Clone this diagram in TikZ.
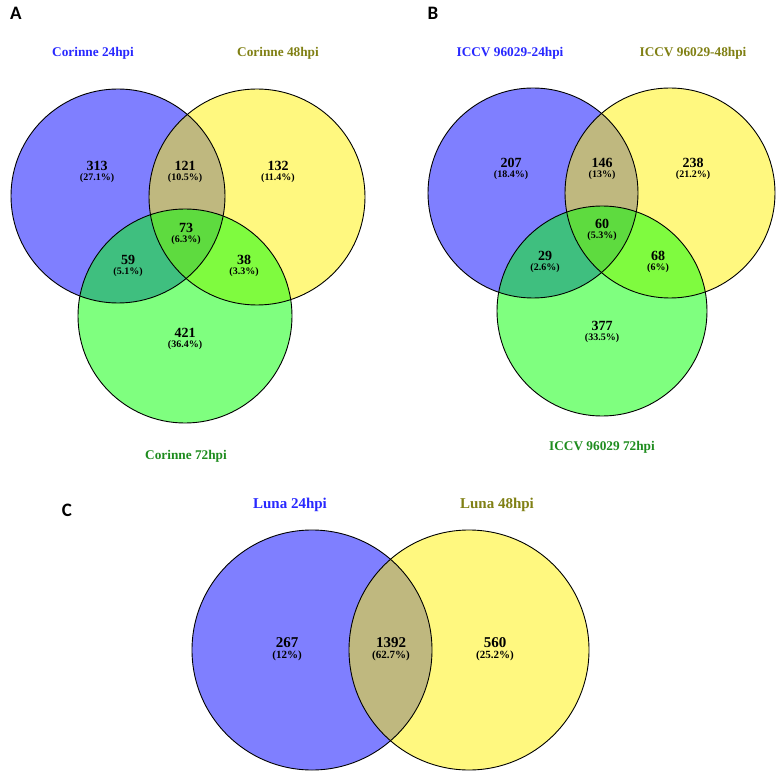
\documentclass[tikz,border=0pt]{standalone}
\usepackage{fontspec}
\setmainfont{Liberation Serif}
\newfontfamily\panelfont{Carlito}
\definecolor{lblblue}{RGB}{40,40,255}
\definecolor{lblolive}{RGB}{128,128,20}
\definecolor{lblgreen}{RGB}{30,140,30}
\tikzset{
  vennline/.style={draw=black, line width=0.9pt},
  bset/.style={fill=blue, fill opacity=0.5},
  yset/.style={fill=yellow, fill opacity=0.5},
  gset/.style={fill=green, fill opacity=0.5},
  num/.style={inner sep=0pt, font=\fontsize{14}{14}\selectfont\bfseries},
  pct/.style={inner sep=0pt, font=\fontsize{10}{10}\selectfont\bfseries},
  bignum/.style={inner sep=0pt, font=\fontsize{15}{15}\selectfont\bfseries},
  bigpct/.style={inner sep=0pt, font=\fontsize{11}{11}\selectfont\bfseries},
  setlbl/.style={inner sep=0pt, font=\fontsize{13.3}{13.3}\selectfont\bfseries},
  biglbl/.style={inner sep=0pt, font=\fontsize{15}{15}\selectfont\bfseries},
  panel/.style={inner sep=0pt, font=\fontsize{19}{19}\selectfont\panelfont\bfseries}
}
\begin{document}
\begin{tikzpicture}[x=1pt,y=-1pt]
\useasboundingbox (0,0) rectangle (781,775);
% ---------- Panel A ----------
\node[panel] (pA) at (16,13) {A};
\coordinate (Ab) at (118,196);
\coordinate (Ay) at (257,197);
\coordinate (Ag) at (185,316);
\fill[bset] (Ab) circle[radius=107];
\fill[yset] (Ay) circle[radius=108];
\fill[gset] (Ag) circle[radius=107];
\draw[vennline] (Ab) circle[radius=107];
\draw[vennline] (Ay) circle[radius=108];
\draw[vennline] (Ag) circle[radius=107];
\node[setlbl, text=lblblue] (Alb) at (93,53) {Corinne 24hpi};
\node[setlbl, text=lblolive] (Aly) at (278,53) {Corinne 48hpi};
\node[setlbl, text=lblgreen] (Alg) at (186,456) {Corinne 72hpi};
\node[num] (An1) at (97,166) {313};   \node[pct] (Ap1) at (97,178) {(27.1\%)};
\node[num] (An2) at (185,166) {121};  \node[pct] (Ap2) at (185,178) {(10.5\%)};
\node[num] (An3) at (278,166) {132};  \node[pct] (Ap3) at (278,178) {(11.4\%)};
\node[num] (An4) at (186,228) {73};   \node[pct] (Ap4) at (186,240) {(6.3\%)};
\node[num] (An5) at (128,260) {59};   \node[pct] (Ap5) at (128,272) {(5.1\%)};
\node[num] (An6) at (244,260) {38};   \node[pct] (Ap6) at (244,272) {(3.3\%)};
\node[num] (An7) at (185,333) {421};  \node[pct] (Ap7) at (185,345) {(36.4\%)};
% ---------- Panel B ----------
\node[panel] (pB) at (433,13) {B};
\coordinate (Bb) at (533,193);
\coordinate (By) at (670,193);
\coordinate (Bg) at (602,311);
\fill[bset] (Bb) circle[radius=105];
\fill[yset] (By) circle[radius=105];
\fill[gset] (Bg) circle[radius=105];
\draw[vennline] (Bb) circle[radius=105];
\draw[vennline] (By) circle[radius=105];
\draw[vennline] (Bg) circle[radius=105];
\node[setlbl, text=lblblue] (Blb) at (510,53) {ICCV 96029-24hpi};
\node[setlbl, text=lblolive] (Bly) at (693,53) {ICCV 96029-48hpi};
\node[setlbl, text=lblgreen] (Blg) at (602,447) {ICCV 96029 72hpi};
\node[num] (Bn1) at (511,163) {207};  \node[pct] (Bp1) at (511,175) {(18.4\%)};
\node[num] (Bn2) at (602,163) {146};  \node[pct] (Bp2) at (602,175) {(13\%)};
\node[num] (Bn3) at (693,163) {238};  \node[pct] (Bp3) at (693,175) {(21.2\%)};
\node[num] (Bn4) at (602,224) {60};   \node[pct] (Bp4) at (602,236) {(5.3\%)};
\node[num] (Bn5) at (545,256) {29};   \node[pct] (Bp5) at (545,268) {(2.6\%)};
\node[num] (Bn6) at (658,256) {68};   \node[pct] (Bp6) at (658,268) {(6\%)};
\node[num] (Bn7) at (602,326) {377};  \node[pct] (Bp7) at (602,338) {(33.5\%)};
% ---------- Panel C ----------
\node[panel] (pC) at (67,510) {C};
\coordinate (Cb) at (312,650);
\coordinate (Cy) at (469,650);
\fill[bset] (Cb) circle[radius=120];
\fill[yset] (Cy) circle[radius=120];
\draw[vennline] (Cb) circle[radius=120];
\draw[vennline] (Cy) circle[radius=120];
\node[biglbl, text=lblblue] (Clb) at (290,505) {Luna 24hpi};
\node[biglbl, text=lblolive] (Cly) at (497,505) {Luna 48hpi};
\node[bignum] (Cn1) at (287,643) {267};   \node[bigpct] (Cp1) at (287,656) {(12\%)};
\node[bignum] (Cn2) at (391,643) {1392};  \node[bigpct] (Cp2) at (391,656) {(62.7\%)};
\node[bignum] (Cn3) at (495,643) {560};   \node[bigpct] (Cp3) at (495,656) {(25.2\%)};
\end{tikzpicture}
\end{document}
